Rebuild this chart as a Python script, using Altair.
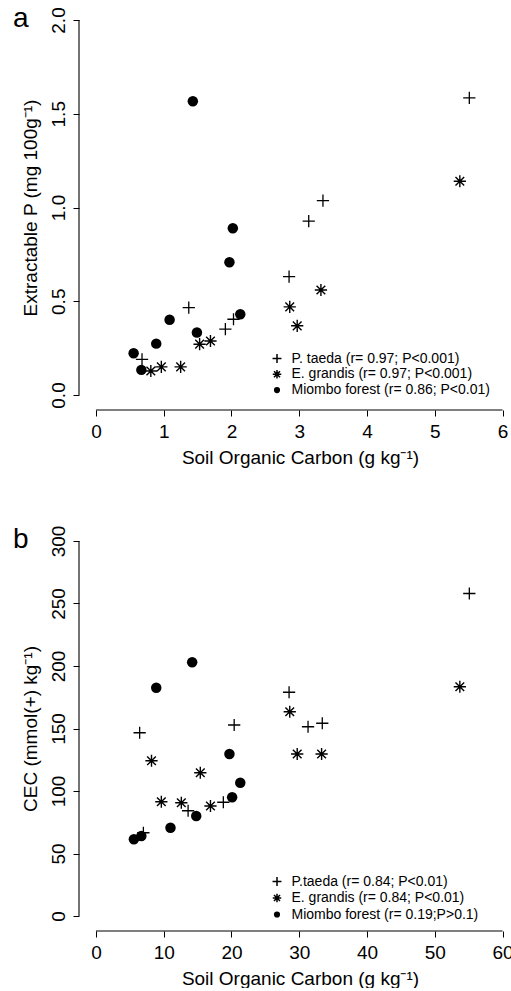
import altair as alt
import pandas as pd

FONT = "Liberation Sans"

# ---------------- Panel a: Extractable P vs SOC ----------------
a_taeda_x = [5.51, 3.35, 3.14, 2.85, 1.37, 2.03, 1.91, 0.68]
a_taeda_y = [1.585, 1.037, 0.927, 0.631, 0.466, 0.404, 0.351, 0.19]
a_grandis_x = [5.37, 3.32, 2.86, 2.97, 1.69, 1.53, 0.965, 1.25, 0.81]
a_grandis_y = [1.14, 0.56, 0.47, 0.369, 0.288, 0.271, 0.15, 0.15, 0.128]
a_miombo_x = [1.43, 2.02, 1.97, 2.13, 1.087, 1.49, 0.89, 0.556, 0.67]
a_miombo_y = [1.567, 0.889, 0.708, 0.431, 0.401, 0.333, 0.274, 0.223, 0.134]
a_legend = ["P. taeda (r= 0.97; P<0.001)",
            "E. grandis (r= 0.97; P<0.001)",
            "Miombo forest (r= 0.86; P<0.01)"]
a_xticks = [0, 1, 2, 3, 4, 5, 6]
a_yticks = [0.0, 0.5, 1.0, 1.5, 2.0]

# ---------------- Panel b: CEC vs SOC ----------------
b_taeda_x = [55.1, 20.4, 6.45, 28.5, 31.3, 33.4, 18.8, 13.6, 7.0]
b_taeda_y = [258, 152.8, 146.6, 179, 151.4, 154.2, 91, 84.2, 66.6]
b_grandis_x = [53.7, 28.6, 29.7, 33.3, 8.2, 15.4, 9.65, 12.6, 16.9]
b_grandis_y = [183.4, 163.4, 129.6, 129.6, 124.2, 114.6, 91.4, 90.6, 88]
b_miombo_x = [14.2, 8.9, 19.7, 21.3, 20.1, 14.8, 11.0, 6.7, 5.6]
b_miombo_y = [203, 182.6, 129.6, 106.6, 95, 80, 70.6, 64, 61.4]
b_legend = ["P.taeda (r= 0.84; P<0.01)",
            "E. grandis (r= 0.84; P<0.01)",
            "Miombo forest (r= 0.19;P>0.1)"]
b_xticks = [0, 10, 20, 30, 40, 50, 60]
b_yticks = [0, 50, 100, 150, 200, 250, 300]

X_TITLE = "Soil Organic Carbon (g kg\u207b\u00b9)"

PLUS = "M-1,0H1M0,-1V1"
STAR = "M-1,0H1M0,-1V1M-0.71,-0.71L0.71,0.71M-0.71,0.71L0.71,-0.71"

W, H = 432, 405


def panel(tx, ty, gx, gy, mx, my, xdom, ydom, xticks, yticks, yfmt,
          ytitle, legend, letter, leg_top, leg_step):
    xenc = alt.X("x:Q",
                 scale=alt.Scale(domain=xdom, nice=False, zero=False),
                 axis=alt.Axis(values=xticks, format="d", title=X_TITLE,
                               labelAngle=0, labelBaseline="alphabetic",
                               labelPadding=21, tickSize=6,
                               titleX=221, titleY=53,
                               titleBaseline="alphabetic",
                               titleAlign="center"))
    yenc = alt.Y("y:Q",
                 scale=alt.Scale(domain=ydom, nice=False, zero=False),
                 axis=alt.Axis(values=yticks, format=yfmt, title=ytitle,
                               labelAngle=270, labelAlign="center",
                               labelBaseline="alphabetic", labelPadding=9,
                               tickSize=6, titleAngle=270, titleX=-43,
                               titleY=H / 2,
                               titleBaseline="alphabetic",
                               titleAlign="center"))

    def df(xs, ys):
        return pd.DataFrame({"x": xs, "y": ys})

    taeda = alt.Chart(df(tx, ty)).mark_point(
        shape=PLUS, filled=False, stroke="black", strokeWidth=1.3,
        size=150, opacity=1).encode(x=xenc, y=yenc)
    grandis = alt.Chart(df(gx, gy)).mark_point(
        shape=STAR, filled=False, stroke="black", strokeWidth=1.4,
        size=150, opacity=1).encode(x=xenc, y=yenc)
    miombo = alt.Chart(df(mx, my)).mark_point(
        shape="circle", filled=True, color="black", size=110,
        opacity=1).encode(x=xenc, y=yenc)

    one = pd.DataFrame({"k": [0]})
    yaxis_line = alt.Chart(one).mark_rule(color="black", strokeWidth=1.1).encode(
        x=alt.value(0), y=alt.datum(yticks[0]), y2=alt.datum(yticks[-1]))
    xaxis_line = alt.Chart(one).mark_rule(color="black", strokeWidth=1.1).encode(
        y=alt.value(H), x=alt.datum(xticks[0]), x2=alt.datum(xticks[-1]))

    layers = [taeda, grandis, miombo, yaxis_line, xaxis_line]

    shapes = [(PLUS, False, 80), (STAR, False, 72), ("circle", True, 38)]
    for i, (lab, (shp, fil, sz)) in enumerate(zip(legend, shapes)):
        ly = leg_top + i * leg_step
        if fil:
            sym = alt.Chart(one).mark_point(
                shape=shp, filled=True, color="black", size=sz, opacity=1)
        else:
            sym = alt.Chart(one).mark_point(
                shape=shp, filled=False, stroke="black", strokeWidth=1.5,
                size=sz, opacity=1)
        sym = sym.encode(x=alt.value(198), y=alt.value(ly))
        txt = alt.Chart(pd.DataFrame({"t": [lab]})).mark_text(
            align="left", baseline="middle", font=FONT, fontSize=14,
            color="black").encode(text="t:N", x=alt.value(212.5),
                                  y=alt.value(ly))
        layers += [sym, txt]

    let = alt.Chart(pd.DataFrame({"t": [letter]})).mark_text(
        align="left", baseline="alphabetic", font=FONT, fontSize=28,
        color="black").encode(text="t:N", x=alt.value(-66), y=alt.value(22))
    layers.append(let)

    return alt.layer(*layers).properties(width=W, height=H)


pa = panel(a_taeda_x, a_taeda_y, a_grandis_x, a_grandis_y,
           a_miombo_x, a_miombo_y, [-0.25, 6.125], [-0.08, 2.08],
           a_xticks, a_yticks, ".1f",
           "Extractable P (mg 100g\u207b\u00b9)", a_legend, "a", 353.5, 15.8)
pb = panel(b_taeda_x, b_taeda_y, b_grandis_x, b_grandis_y,
           b_miombo_x, b_miombo_y, [-2.5, 61.25], [-12, 312],
           b_xticks, b_yticks, "d",
           "CEC (mmol(+) kg\u207b\u00b9)", b_legend, "b", 355.5, 16.5)

chart = alt.vconcat(pa, pb, spacing=58).properties(
    padding={"left": 13, "top": 5, "right": -3, "bottom": 0},
    background="white"
).configure_view(stroke=None).configure_axis(
    grid=False, domain=False, tickColor="black", tickWidth=1,
    labelColor="black", titleColor="black", labelFont=FONT, titleFont=FONT,
    labelFontSize=19, titleFontSize=19, titleFontWeight="normal",
    labelOverlap=False, labelFlush=False
)

chart.save("out.html", embed_options={"renderer": "svg", "actions": False})
